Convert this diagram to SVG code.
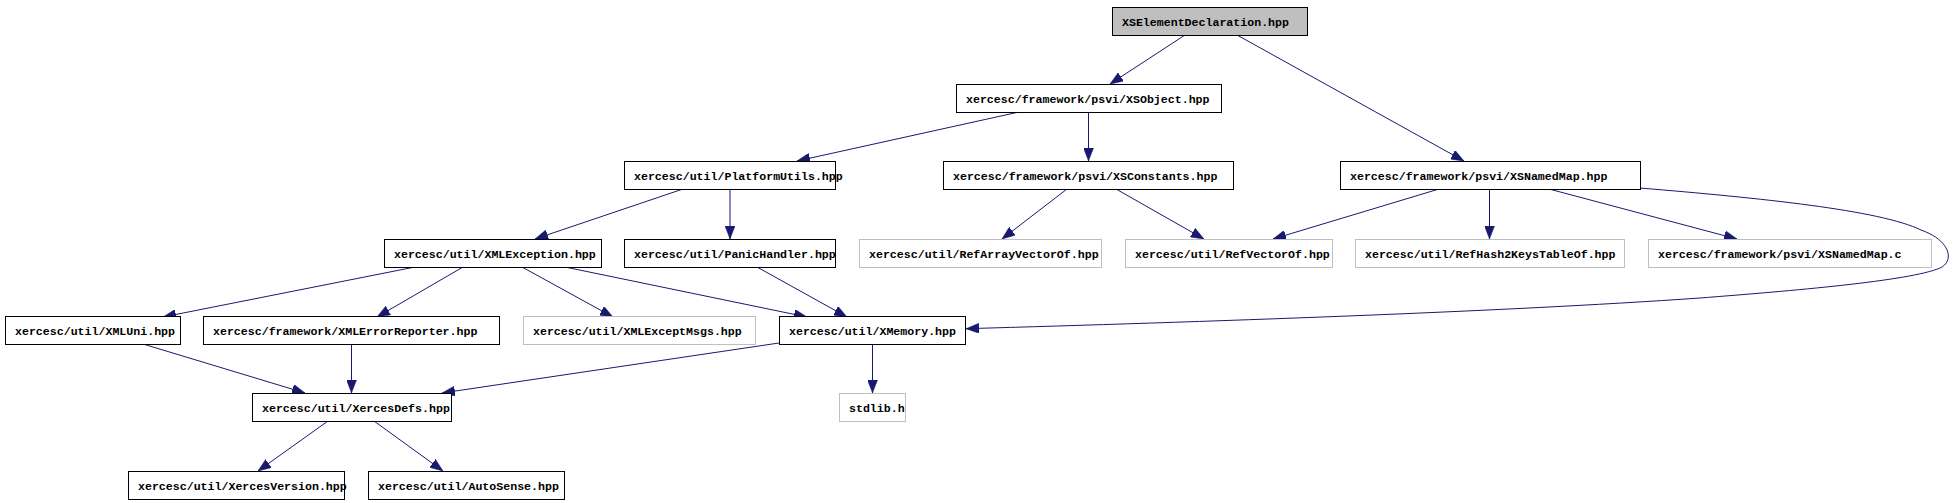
<svg xmlns="http://www.w3.org/2000/svg" width="1955" height="503" viewBox="0 0 1955 503">
<style>
.n rect{fill:#ffffff;stroke:#000000;stroke-width:1}
.n.g rect{stroke:#bfbfbf}
.n.root rect{fill:#bfbfbf}
.n text{font-family:"Liberation Mono","DejaVu Sans Mono",monospace;font-size:11.6px;font-weight:bold;fill:#000000}
#edges path{fill:none;stroke:#191970;stroke-width:1;marker-end:url(#arr)}
</style>
<defs>
<marker id="arr" markerUnits="userSpaceOnUse" viewBox="0 0 13 10" markerWidth="13" markerHeight="10" refX="13" refY="5" orient="auto">
<path d="M0,0 L13,5 L0,10 z" fill="#191970" stroke="#191970" stroke-width="0.5"/>
</marker>
</defs>
<rect x="0" y="0" width="1955" height="503" fill="#ffffff"/>
<g id="edges">
<path d="M1185,35 L1110,84"/>
<path d="M1237,35 L1464,161"/>
<path d="M1019,112 L797,161"/>
<path d="M1088.5,112 L1088.5,161"/>
<path d="M683,189 L535,239"/>
<path d="M730,189 L730,239"/>
<path d="M1067,189 L1002,239"/>
<path d="M1116,189 L1204,239"/>
<path d="M1439,189 L1273,239"/>
<path d="M1489.5,189 L1489.5,239"/>
<path d="M1549,189 L1737,239"/>
<path d="M1640,188 C1760,198 1880,210 1921,230 C1952,241 1954,262 1940,268 C1910,281 1790,291 1700,298 C1500,312 1200,322 966,328.7"/>
<path d="M415,267 L163,317"/>
<path d="M463,267 L377,317"/>
<path d="M522,267 L613,317"/>
<path d="M565,267 L807,317"/>
<path d="M757,267 L847,317"/>
<path d="M143,344 L305,393"/>
<path d="M351.5,344 L351.5,393"/>
<path d="M779,343 L442,393"/>
<path d="M872.5,344 L872.5,393"/>
<path d="M328,421 L258,471"/>
<path d="M374,421 L443,471"/>
</g>
<g id="node_XSElementDeclaration" class="n root"><rect x="1112.5" y="7.5" width="195" height="28"/><text x="1122" y="26">XSElementDeclaration.hpp</text></g>
<g id="node_XSObject" class="n"><rect x="956.5" y="84.5" width="265" height="28"/><text x="966" y="103">xercesc/framework/psvi/XSObject.hpp</text></g>
<g id="node_PlatformUtils" class="n"><rect x="624.5" y="161.5" width="211" height="28"/><text x="634" y="180">xercesc/util/PlatformUtils.hpp</text></g>
<g id="node_XSConstants" class="n"><rect x="943.5" y="161.5" width="290" height="28"/><text x="953" y="180">xercesc/framework/psvi/XSConstants.hpp</text></g>
<g id="node_XSNamedMap" class="n"><rect x="1340.5" y="161.5" width="300" height="28"/><text x="1350" y="180">xercesc/framework/psvi/XSNamedMap.hpp</text></g>
<g id="node_XMLException" class="n"><rect x="384.5" y="239.5" width="217" height="28"/><text x="394" y="258">xercesc/util/XMLException.hpp</text></g>
<g id="node_PanicHandler" class="n"><rect x="624.5" y="239.5" width="211" height="28"/><text x="634" y="258">xercesc/util/PanicHandler.hpp</text></g>
<g id="node_RefArrayVectorOf" class="n g"><rect x="859.5" y="239.5" width="242" height="28"/><text x="869" y="258">xercesc/util/RefArrayVectorOf.hpp</text></g>
<g id="node_RefVectorOf" class="n g"><rect x="1125.5" y="239.5" width="207" height="28"/><text x="1135" y="258">xercesc/util/RefVectorOf.hpp</text></g>
<g id="node_RefHash2KeysTableOf" class="n g"><rect x="1355.5" y="239.5" width="269" height="28"/><text x="1365" y="258">xercesc/util/RefHash2KeysTableOf.hpp</text></g>
<g id="node_XSNamedMap_c" class="n g"><rect x="1648.5" y="239.5" width="283" height="28"/><text x="1658" y="258">xercesc/framework/psvi/XSNamedMap.c</text></g>
<g id="node_XMLUni" class="n"><rect x="5.5" y="316.5" width="175" height="28"/><text x="15" y="335">xercesc/util/XMLUni.hpp</text></g>
<g id="node_XMLErrorReporter" class="n"><rect x="203.5" y="316.5" width="296" height="28"/><text x="213" y="335">xercesc/framework/XMLErrorReporter.hpp</text></g>
<g id="node_XMLExceptMsgs" class="n g"><rect x="523.5" y="316.5" width="232" height="28"/><text x="533" y="335">xercesc/util/XMLExceptMsgs.hpp</text></g>
<g id="node_XMemory" class="n"><rect x="779.5" y="316.5" width="186" height="28"/><text x="789" y="335">xercesc/util/XMemory.hpp</text></g>
<g id="node_XercesDefs" class="n"><rect x="252.5" y="393.5" width="199" height="28"/><text x="262" y="412">xercesc/util/XercesDefs.hpp</text></g>
<g id="node_stdlib" class="n g"><rect x="839.5" y="393.5" width="66" height="28"/><text x="849" y="412">stdlib.h</text></g>
<g id="node_XercesVersion" class="n"><rect x="128.5" y="471.5" width="216" height="28"/><text x="138" y="490">xercesc/util/XercesVersion.hpp</text></g>
<g id="node_AutoSense" class="n"><rect x="368.5" y="471.5" width="196" height="28"/><text x="378" y="490">xercesc/util/AutoSense.hpp</text></g>
</svg>
